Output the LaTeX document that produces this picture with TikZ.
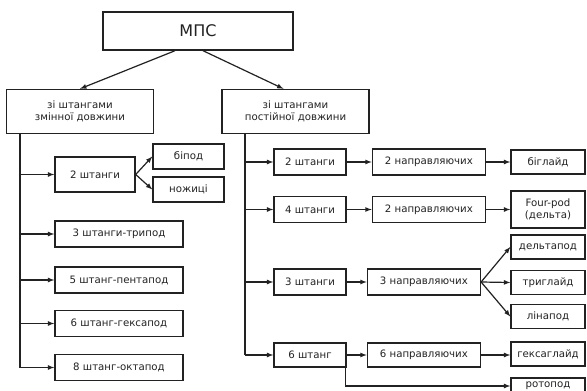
\documentclass[tikz,border=0pt]{standalone}
\usepackage{fontspec}
\setmainfont{DejaVu Sans}
\usetikzlibrary{positioning}
\definecolor{ink}{HTML}{222222}

\begin{document}
\begin{tikzpicture}[x=1pt,y=-1pt,
  box/.style={draw=ink,line width=1.4pt,inner sep=1pt,align=center,text=ink,
    font=\fontsize{10.2}{12.5}\selectfont},
  group/.style={box,minimum width=147pt,minimum height=44pt},
  pair/.style={box,minimum width=71pt,minimum height=25pt},
  legs/.style={box,minimum width=128pt,minimum height=26pt},
  rods/.style={box,minimum width=72pt,minimum height=26pt},
  guide/.style={box,minimum width=113pt,minimum height=26pt},
  leaf/.style={box,minimum width=74pt,minimum height=24pt},
  link/.style={ink,line width=1.2pt},
  arr/.style={link,-latex}]
  \useasboundingbox[fill=white] (0,0) rectangle (587,391);

  \node[box,minimum width=190pt,minimum height=38pt,font=\fontsize{16}{18}\selectfont](mps) at (198,31){МПС};
  \node[group](var) at (80,111.5){зі штангами\\змінної довжини};
  \node[group](const) at (295.5,111.5){зі штангами\\постійної довжини};

  \node[box,minimum width=80pt,minimum height=35pt](l2) at (95,174.5){2 штанги};
  \node[pair](bipod) at (188.5,156.5){біпод};
  \node[pair](scissors) at (188.5,189.5){ножиці};
  \node[legs](tripod) at (119,234){3 штанги-трипод};
  \node[legs](pentapod) at (119,280){5 штанг-пентапод};
  \node[legs](hexapod) at (119,323.5){6 штанг-гексапод};
  \node[legs](octapod) at (119,367.5){8 штанг-октапод};

  \node[rods](r2) at (310,162){2 штанги};
  \node[guide,right=25pt of r2](g2a){2 направляючих};
  \node[leaf](biglide) at (548,162){біглайд};
  \node[rods](r4) at (310,209.5){4 штанги};
  \node[guide,right=25pt of r4](g2b){2 направляючих};
  \node[leaf,minimum height=37pt](fourpod) at (548,209.5){Four-pod\\(дельта)};
  \node[rods](r3) at (310,282){3 штанги};
  \node[guide,right=20pt of r3](g3){3 направляючих};
  \node[leaf](deltapod) at (548,247){дельтапод};
  \node[leaf](triglide) at (548,282.5){триглайд};
  \node[leaf](linapod) at (548,316.5){лінапод};
  \node[rods,minimum height=24pt](r6) at (310,355){6 штанг};
  \node[guide,minimum height=24pt,right=20pt of r6](g6){6 направляючих};
  \node[leaf](hexaglide) at (548,354){гексаглайд};
  \node[leaf,minimum height=16pt](rotopod) at (548,386){ротопод};

  \coordinate (ltop) at (20,134);
  \coordinate (rtop) at (245,133.5);

  \path[arr]
  ([xshift=-23pt]mps.south) edge (var.north)
  ([xshift=5pt]mps.south) edge ([xshift=-12pt]const.north);

  \draw[link] (ltop) -- (ltop |- octapod);
  \path[arr]
  (ltop |- l2) edge (l2)
  (l2.east) edge (bipod.west)
  (l2.east) edge (scissors.west)
  (ltop |- tripod) edge (tripod)
  (ltop |- pentapod) edge (pentapod)
  (ltop |- hexapod) edge (hexapod)
  (ltop |- octapod) edge (octapod);

  \draw[link] (rtop) -- (rtop |- r6);
  \path[arr]
  (rtop |- r2) edge (r2)
  (r2) edge (g2a)
  (g2a) edge (biglide)
  (rtop |- r4) edge (r4)
  (r4) edge (g2b)
  (g2b) edge (fourpod)
  (rtop |- r3) edge (r3)
  (r3) edge (g3)
  (g3.east) edge (deltapod.west)
  (g3.east) edge (triglide.west)
  (g3.east) edge (linapod.west)
  (rtop |- r6) edge (r6)
  (r6.east) edge (r6.east -| g6.west)
  (g6.east) edge (g6.east -| hexaglide.west);
  \draw[arr] ([xshift=-1pt]r6.south east) |- (rotopod);
\end{tikzpicture}
\end{document}
